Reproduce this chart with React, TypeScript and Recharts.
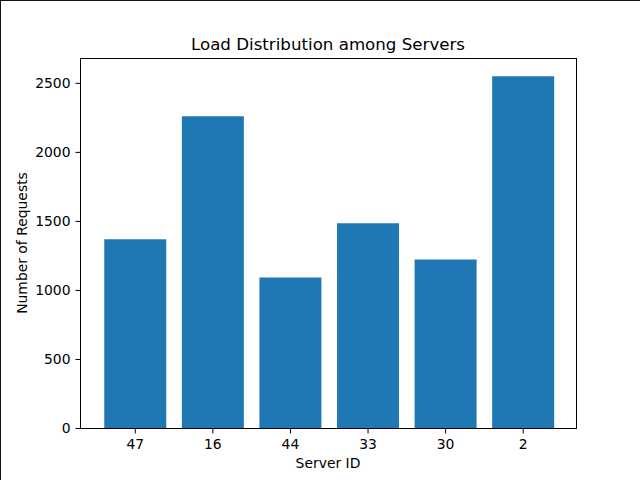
import React from "react";
import { BarChart, Bar, XAxis, YAxis } from "recharts";

const servers = ["47", "16", "44", "33", "30", "2"];
const requests = [1370, 2261, 1094, 1486, 1225, 2551];
const yTicks = [0, 500, 1000, 1500, 2000, 2500];

const data = servers.map((s, i) => ({ server: s, requests: requests[i] }));

const FONT = "DejaVu Sans, sans-serif";

const PLOT = { left: 80.5, top: 58.5, right: 576.5, bottom: 428.5 };

export default function App() {
  return (
    <div
      style={{
        position: "fixed",
        top: 0,
        left: 0,
        width: 640,
        height: 480,
        background: "#fff",
      }}
    >
      <BarChart
        width={640}
        height={480}
        data={data}
        margin={{ top: PLOT.top, right: 640 - PLOT.right, bottom: 0, left: 0 }}
        barCategoryGap="10%"
      >
        <XAxis
          dataKey="server"
          height={480 - PLOT.bottom}
          padding={{ left: 16, right: 14.5 }}
          tickSize={5}
          tickMargin={6}
          tick={{ fill: "#000", fontSize: 13.9, fontFamily: FONT }}
          tickLine={{ stroke: "#000" }}
          axisLine={{ stroke: "#000" }}
          interval={0}
        />
        <YAxis
          width={PLOT.left}
          domain={[0, 2680]}
          ticks={yTicks}
          allowDataOverflow
          tickSize={5}
          tickMargin={5}
          tick={{ fill: "#000", fontSize: 13.9, fontFamily: FONT }}
          tickLine={{ stroke: "#000" }}
          axisLine={{ stroke: "#000" }}
        />
        <Bar dataKey="requests" fill="#1f77b4" isAnimationActive={false} />
      </BarChart>
      <svg
        width={640}
        height={480}
        style={{ position: "absolute", top: 0, left: 0, pointerEvents: "none" }}
      >
        <line x1={0} y1={0.5} x2={640} y2={0.5} stroke="#111" strokeWidth={1} />
        <line x1={0.5} y1={0} x2={0.5} y2={480} stroke="#111" strokeWidth={1} />
        <rect
          x={PLOT.left}
          y={PLOT.top}
          width={PLOT.right - PLOT.left}
          height={PLOT.bottom - PLOT.top}
          fill="none"
          stroke="#000"
          strokeWidth={1}
        />
        <text
          x={328}
          y={50}
          textAnchor="middle"
          fontFamily={FONT}
          fontSize={16.67}
          fill="#000"
        >
          Load Distribution among Servers
        </text>
        <text
          x={328}
          y={467.5}
          textAnchor="middle"
          fontFamily={FONT}
          fontSize={13.9}
          fill="#000"
        >
          Server ID
        </text>
        <text
          x={27}
          y={243}
          textAnchor="middle"
          fontFamily={FONT}
          fontSize={13.9}
          fill="#000"
          transform="rotate(-90 27 243)"
        >
          Number of Requests
        </text>
      </svg>
    </div>
  );
}
